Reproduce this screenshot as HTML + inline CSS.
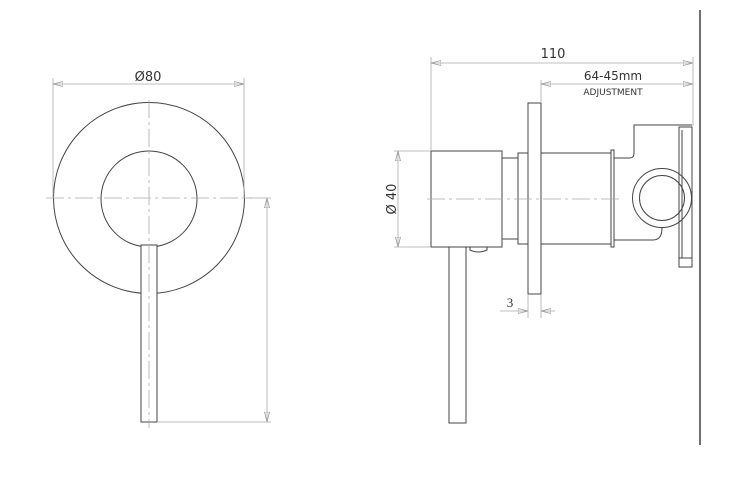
<!DOCTYPE html>
<html><head><meta charset="utf-8"><style>
html,body{margin:0;padding:0;background:#fff;width:736px;height:491px;overflow:hidden}
svg{display:block}
text{font-family:"DejaVu Sans","Liberation Sans",sans-serif;fill:#333}
</style></head><body>
<svg width="736" height="491" viewBox="0 0 736 491" xmlns="http://www.w3.org/2000/svg">
<defs>
<marker id="a" viewBox="0 0 10 6" refX="10" refY="3" markerWidth="10" markerHeight="6" orient="auto-start-reverse" markerUnits="userSpaceOnUse">
<path d="M0,0.5 L10,3 L0,5.5 Z" fill="none" stroke="#999" stroke-width="0.8"/></marker>
</defs>
<g fill="none" stroke="#444" stroke-width="1">
<circle cx="149" cy="198" r="95.5"/>
<circle cx="149" cy="199" r="48"/>
<rect x="141" y="245" width="16" height="177" fill="#fff"/>
<!-- side view -->
<rect x="431" y="151" width="71" height="96"/>
<rect x="502" y="158" width="16" height="81"/>
<rect x="518" y="153" width="10" height="91"/>
<rect x="528" y="103" width="13" height="191"/>
<rect x="541" y="153" width="70" height="91"/>
<rect x="611" y="150" width="3" height="97"/>
<rect x="449" y="247" width="17" height="176"/>
<path d="M470,247 L470,250 Q478,254 487,250 L487,247"/>
<path d="M614,158 L630,158 Q634,158 634,153 L634,125 L692,125"/>
<path d="M614,240 L653,240 Q662,240 662,228"/>
<circle cx="662" cy="198" r="29.5" fill="#fff"/>
<circle cx="662" cy="198" r="22.5"/>
<rect x="679" y="127" width="13" height="140"/>
<line x1="682" y1="130" x2="682" y2="258"/>
<line x1="679" y1="258" x2="692" y2="258"/>
</g>
<g fill="none" stroke="#aaa" stroke-width="0.8">
<line x1="53" y1="78" x2="53" y2="198"/>
<line x1="244" y1="78" x2="244" y2="198"/>
<line x1="53" y1="84" x2="244" y2="84" marker-start="url(#a)" marker-end="url(#a)"/>
<line x1="244" y1="198" x2="271" y2="198"/>
<line x1="157" y1="422" x2="271" y2="422"/>
<line x1="267" y1="198" x2="267" y2="422" marker-start="url(#a)" marker-end="url(#a)"/>
<line x1="46" y1="198" x2="252" y2="198" stroke-dasharray="18,4,3,4"/>
<line x1="149" y1="100" x2="149" y2="428" stroke-dasharray="18,4,3,4"/>
<line x1="431" y1="57" x2="431" y2="151"/>
<line x1="693" y1="57" x2="693" y2="126"/>
<line x1="431" y1="63" x2="693" y2="63" marker-start="url(#a)" marker-end="url(#a)"/>
<line x1="541" y1="80" x2="541" y2="103"/>
<line x1="541" y1="84" x2="693" y2="84" marker-start="url(#a)" marker-end="url(#a)"/>
<line x1="394" y1="151" x2="431" y2="151"/>
<line x1="394" y1="247" x2="431" y2="247"/>
<line x1="398" y1="151" x2="398" y2="247" marker-start="url(#a)" marker-end="url(#a)"/>
<line x1="528" y1="294" x2="528" y2="318"/>
<line x1="541" y1="294" x2="541" y2="318"/>
<line x1="500" y1="311" x2="528" y2="311" marker-end="url(#a)"/>
<line x1="555" y1="311" x2="541" y2="311" marker-end="url(#a)"/>
<line x1="427" y1="199" x2="620" y2="199" stroke-dasharray="18,4,3,4"/>
</g>
<line x1="700" y1="10" x2="700" y2="445" stroke="#111" stroke-width="1.2"/>
<text x="148" y="81" font-size="13" text-anchor="middle">Ø80</text>
<text x="553" y="58" font-size="13" text-anchor="middle">110</text>
<text x="613" y="80" font-size="12" text-anchor="middle">64-45mm</text>
<text x="613" y="95" font-size="9" text-anchor="middle">ADJUSTMENT</text>
<text x="0" y="0" font-size="13" text-anchor="middle" transform="translate(396,199) rotate(-90)">Ø 40</text>
<text x="510" y="307" font-size="13" text-anchor="middle" style="font-family:'Liberation Serif',serif">3</text>
</svg>
</body></html>
